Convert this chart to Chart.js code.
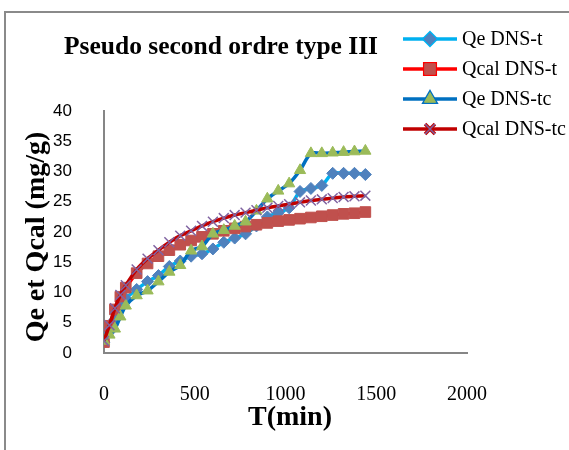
<!DOCTYPE html>
<html>
<head>
<meta charset="utf-8">
<script src="https://cdn.jsdelivr.net/npm/chart.js@4.4.0/dist/chart.umd.min.js"></script>
<style>
body{margin:0;background:#fff;overflow:hidden;}
#wrap{position:relative;width:569px;height:450px;overflow:hidden;}
#frame{position:absolute;left:4px;top:11px;width:700px;height:600px;border:2px solid #8a8a8a;}
canvas{position:absolute;left:0;top:0;}
</style>
</head>
<body>
<div id="wrap"><div id="frame"></div><canvas id="c" width="569" height="450"></canvas></div>
<script>
// time (min)
let times = [0,30,60,90,120,180,240,300,360,420,480,540,600,660,720,780,840,900,960,1020,1080,1140,1200,1260,1320,1380,1440];

let qeT    = [1.8,3.5,5.5,7.5,9.0,10.5,11.8,12.8,14.3,15.2,16.0,16.4,17.2,18.3,19.0,19.7,21.0,22.5,23.2,24.0,26.7,27.2,27.7,29.7,29.7,29.7,29.5];
let qcalT  = [1.8,4.5,7.2,9.3,10.8,13.2,14.8,16.0,17.0,17.9,18.6,19.2,19.7,20.2,20.6,20.9,21.2,21.5,21.8,22.0,22.2,22.4,22.6,22.8,23.0,23.1,23.3];
let qeTc   = [2.0,3.0,4.0,6.0,7.8,9.5,10.3,11.8,13.4,14.5,16.9,17.6,19.7,20.3,21.0,21.7,23.5,25.5,26.8,28.0,30.2,33.0,33.0,33.1,33.2,33.3,33.4];
let qcalTc = [2.0,4.6,7.4,9.6,11.2,13.8,15.6,17.0,18.3,19.4,20.2,21.0,21.7,22.3,22.8,23.2,23.6,24.0,24.3,24.6,24.9,25.2,25.4,25.6,25.8,25.9,26.0];

let seriesNames = ["Qe DNS-t","Qcal DNS-t","Qe DNS-tc","Qcal DNS-tc"];
let xTicks = [0,500,1000,1500,2000];
let yTicks = [0,5,10,15,20,25,30,35,40];

let chartTitle = "Pseudo second ordre type III";
let xTitle = "T(min)";
let yTitle = "Qe et Qcal (mg/g)";

function pts(vals){
return times.map((t,i) => ({x:t, y:vals[i]}));
}

let serif = "'Liberation Serif', 'Times New Roman', serif";

// legend + titles drawn on the canvas
let textPlugin = {
id:"textPlugin",
afterDraw(chart){
let ctx = chart.ctx;
ctx.save();
ctx.fillStyle = "#000";

ctx.font = "bold 25.5px " + serif;
ctx.textAlign = "center";
ctx.textBaseline = "middle";
ctx.fillText(chartTitle, 221, 47);

ctx.font = "bold 28px " + serif;
ctx.fillText(xTitle, 290, 418);

ctx.save();
ctx.translate(37, 237);
ctx.rotate(-Math.PI/2);
ctx.fillText(yTitle, 0, 0);
ctx.restore();

chart.data.datasets.forEach((ds,i) => {
let y = 39 + i*30;
ctx.strokeStyle = ds.borderColor;
ctx.lineWidth = ds.borderWidth;
ctx.beginPath();
ctx.moveTo(403, y);
ctx.lineTo(457, y);
ctx.stroke();
Chart.helpers.drawPoint(ctx, {
pointStyle: ds.pointStyle,
radius: ds.pointRadius,
borderWidth: ds.pointBorderWidth,
rotation: 0
}, 430, y);
ctx.fillStyle = ds.pointBackgroundColor;
ctx.strokeStyle = ds.pointBorderColor;
ctx.lineWidth = ds.pointBorderWidth;
if(ds.pointStyle !== "crossRot") ctx.fill();
ctx.stroke();
ctx.fillStyle = "#000";
ctx.font = "20px " + serif;
ctx.textAlign = "left";
ctx.fillText(ds.label, 462, y + 1);
});

ctx.restore();
}
};

const ctx = document.getElementById("c").getContext("2d");

let chart = new Chart(ctx,{
type:"line",
data:{
datasets:[
{
label:seriesNames[0],
data:pts(qeT),
borderColor:"#00B0F0",
borderWidth:3.5,
pointStyle:"rectRot",
pointRadius:6,
pointBackgroundColor:"#4F81BD",
pointBorderColor:"#4F81BD",
pointBorderWidth:1,
tension:0.3,
order:4
},
{
label:seriesNames[1],
data:pts(qcalT),
borderColor:"#FF0000",
borderWidth:3.5,
pointStyle:"rect",
pointRadius:7.5,
pointBackgroundColor:"#C0504D",
pointBorderColor:"#C0504D",
pointBorderWidth:1,
tension:0.3,
order:3
},
{
label:seriesNames[2],
data:pts(qeTc),
borderColor:"#0070C0",
borderWidth:3.5,
pointStyle:"triangle",
pointRadius:6.5,
pointBackgroundColor:"#9BBB59",
pointBorderColor:"#9BBB59",
pointBorderWidth:1,
tension:0.3,
order:2
},
{
label:seriesNames[3],
data:pts(qcalTc),
borderColor:"#C00000",
borderWidth:3.5,
pointStyle:"crossRot",
pointRadius:7,
pointBackgroundColor:"#8064A2",
pointBorderColor:"#8064A2",
pointBorderWidth:1.5,
tension:0.3,
order:1
}
]
},
options:{
responsive:false,
animation:false,
layout:{padding:{left:0,top:111,right:102,bottom:0}},
plugins:{
legend:{display:false},
title:{display:false},
tooltip:{enabled:false}
},
scales:{
x:{
type:"linear",
min:0,
max:2000,
afterBuildTicks(scale){ scale.ticks = xTicks.map(v => ({value:v})); },
afterFit(scale){ scale.height = 97; },
grid:{display:false},
border:{display:true,color:"#868686",width:2},
ticks:{padding:22,color:"#000",font:{family:serif,size:20},callback:v => String(v)}
},
y:{
min:0,
max:40,
afterBuildTicks(scale){ scale.ticks = yTicks.map(v => ({value:v})); },
afterFit(scale){ scale.width = 104; },
grid:{display:false},
border:{display:true,color:"#868686",width:2},
ticks:{padding:24,color:"#000",font:{family:"'Liberation Sans', Arial, sans-serif",size:17},callback:v => String(v)}
}
}
},
plugins:[textPlugin]
});
</script>
</body>
</html>
